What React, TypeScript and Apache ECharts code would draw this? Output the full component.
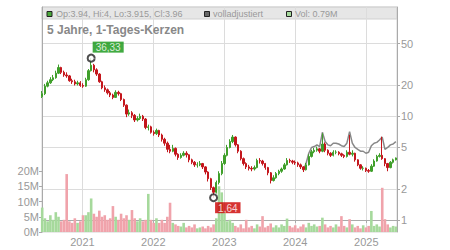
import React, { useEffect, useRef } from "react";
import * as echarts from "echarts";

// ---- data (one candle per 14 days) ----
const START_DATE = [2020, 5, 8]; // 2020-06-08
const STEP_DAYS = 14;
const FIRST_OPEN = 15.5;

const closes = [
  16.5, 19.5, 21.0, 22.5, 23.5, 26.0, 29.5, 26.5, 25.0, 24.5,
  22.0, 21.5, 20.5, 21.0, 19.8, 19.5, 22.5, 27.5, 31.0, 28.0,
  25.5, 21.5, 18.8, 18.0, 16.8, 16.0, 15.2, 17.0, 16.5, 14.5,
  12.8, 10.5, 10.8, 10.2, 9.2, 9.5, 10.0, 9.4, 7.8, 7.9,
  7.0, 6.8, 7.3, 6.6, 6.0, 5.5, 4.8, 4.6, 4.9, 4.3,
  4.0, 4.2, 4.4, 4.25, 3.8, 3.6, 3.4, 3.4, 3.5, 3.25,
  2.9, 2.5, 2.05, 1.85, 2.3, 2.8, 3.5, 4.2, 5.0, 5.7,
  6.3, 5.3, 4.6, 3.9, 3.5, 3.25, 3.15, 3.1, 3.2, 3.75,
  3.7, 3.5, 3.2, 2.85, 2.4, 2.55, 2.8, 2.95, 3.1, 3.4,
  3.75, 3.7, 3.6, 3.55, 3.4, 3.25, 3.05, 3.4, 4.1, 4.55,
  4.7, 4.85, 4.6, 5.4, 4.7, 4.4, 4.2, 4.5, 4.5, 4.35,
  4.2, 4.1, 4.5, 4.3, 4.4, 3.8, 3.4, 3.15, 3.15, 3.0,
  2.95, 3.3, 3.7, 4.1, 4.2, 3.9, 3.5, 3.2, 3.6, 3.8,
  3.96,
];

const highs = [
  17.5, 20.5, 22.0, 23.8, 25.0, 27.5, 31.5, 30.0, 27.5, 26.5,
  25.0, 23.0, 22.5, 22.0, 21.8, 20.8, 23.5, 28.5, 36.33, 32.0,
  29.0, 26.0, 22.0, 19.8, 18.5, 17.5, 16.5, 17.8, 17.6, 16.8,
  14.8, 13.0, 11.6, 11.2, 10.5, 10.0, 10.6, 10.3, 9.6, 8.3,
  8.1, 7.3, 7.6, 7.4, 6.8, 6.2, 5.7, 5.3, 5.3, 5.0,
  4.4, 4.4, 4.6, 4.6, 4.3, 3.9, 3.7, 3.6, 3.7, 3.55,
  3.3, 2.95, 2.55, 2.1, 2.4, 2.95, 3.7, 4.4, 5.3, 6.0,
  6.6, 6.4, 5.4, 4.7, 4.0, 3.6, 3.4, 3.3, 3.35, 3.9,
  3.95, 3.8, 3.55, 3.25, 2.9, 2.7, 2.9, 3.05, 3.2, 3.55,
  3.95, 3.9, 3.8, 3.75, 3.65, 3.5, 3.3, 3.55, 4.3, 4.75,
  4.95, 5.1, 4.95, 6.85, 5.6, 4.8, 4.5, 4.7, 4.7, 4.6,
  4.45, 4.3, 4.7, 6.6, 4.7, 4.45, 3.85, 3.45, 3.3, 3.2,
  3.1, 3.45, 3.85, 4.25, 4.4, 6.35, 3.95, 3.55, 3.7, 3.9,
  4.0,
];

const lows = [
  15.0, 16.0, 19.0, 20.5, 21.8, 23.0, 25.5, 25.5, 24.0, 23.5,
  21.5, 20.5, 19.8, 19.8, 19.2, 18.8, 19.2, 22.0, 27.0, 26.5,
  24.5, 21.0, 18.2, 17.2, 16.2, 15.3, 14.6, 15.0, 15.8, 14.0,
  12.3, 9.8, 10.1, 9.6, 8.8, 8.9, 9.2, 9.0, 7.5, 7.3,
  6.8, 6.5, 6.6, 6.3, 5.7, 5.2, 4.5, 4.4, 4.5, 4.1,
  3.8, 3.9, 4.1, 4.0, 3.6, 3.45, 3.25, 3.2, 3.3, 3.1,
  2.75, 2.35, 1.95, 1.64, 1.8, 2.2, 2.7, 3.4, 4.1, 4.9,
  5.5, 5.1, 4.4, 3.75, 3.35, 3.1, 3.0, 2.95, 3.0, 3.15,
  3.5, 3.35, 3.05, 2.7, 2.25, 2.35, 2.5, 2.7, 2.85, 3.05,
  3.35, 3.55, 3.45, 3.4, 3.25, 3.1, 2.9, 3.0, 3.35, 4.0,
  4.4, 4.55, 4.4, 4.5, 4.5, 4.2, 4.05, 4.1, 4.3, 4.2,
  4.05, 3.95, 4.0, 4.2, 4.1, 3.65, 3.3, 3.05, 3.0, 2.9,
  2.85, 2.9, 3.25, 3.65, 4.0, 3.8, 3.3, 2.95, 3.15, 3.5,
  3.75,
];

// volume in millions of shares
const volumesM = [
  8.0, 4.5, 3.5, 5.5, 4.0, 6.5, 5.0, 3.5, 4.0, 19.0,
  3.5, 3.0, 4.5, 3.0, 3.5, 5.5, 5.5, 6.5, 11.0, 6.0,
  5.0, 7.0, 5.0, 5.5, 4.0, 4.5, 8.5, 5.0, 4.0, 6.0,
  4.5, 5.5, 4.0, 7.2, 4.5, 3.5, 4.5, 3.5, 4.0, 12.5,
  4.0, 3.0, 4.5, 3.0, 4.0, 3.0, 5.0, 9.6, 3.0, 2.5,
  2.0, 1.8, 3.0, 1.5, 2.0, 1.5, 2.5, 1.2, 1.5, 1.8,
  1.2, 2.0, 1.5, 2.5, 4.5, 15.0, 13.0, 6.5, 3.5, 4.0,
  3.0, 2.0, 1.5, 2.5, 1.2, 4.0, 1.5, 2.0, 1.2, 2.5,
  1.8, 5.2, 1.5, 2.0, 2.8, 1.5, 2.2, 1.5, 2.5, 2.0,
  4.4, 2.0, 1.5, 2.2, 1.2, 1.8, 2.5, 1.5, 3.0, 2.0,
  2.5, 1.8, 2.0, 4.7, 2.5, 1.5, 2.0, 1.5, 2.5, 1.8,
  5.2, 2.0, 1.5, 4.2, 2.5, 1.5, 2.0, 1.2, 2.2, 1.5,
  2.0, 6.9, 2.0, 2.5, 1.8, 14.5, 4.2, 2.5, 1.5, 2.0,
  1.8,
];

// fully adjusted close ("volladjustiert"), visible from this candle on
const ADJUSTED_START_INDEX = 96;
const adjustedCloses = [
  3.05, 3.5, 4.4, 5.0, 5.1, 5.3, 5.1, 7.0, 5.7, 5.3,
  5.2, 5.5, 5.5, 5.4, 5.2, 5.1, 5.5, 7.1, 5.5, 5.0,
  4.8, 4.6, 4.6, 4.4, 4.5, 5.2, 5.5, 5.6, 5.9, 6.3,
  4.8, 5.0, 5.3, 5.4, 5.7,
];

const priceTicks = [1, 2, 5, 10, 20, 50];
const volumeTicksM = [0, 5, 10, 15, 20];
const yearTicks = [2021, 2022, 2023, 2024, 2025];
const X_MIN = [2020, 5, 7];
const X_MAX = [2025, 5, 8];
const PRICE_MIN = 0.766;
const PRICE_MAX = 113;
const VOLUME_MAX_M = 73.8;

const titleText = "5 Jahre, 1-Tages-Kerzen";
const ohlcText = "Op:3.94, Hi:4, Lo:3.915, Cl:3.96";
const adjText = "volladjustiert";
const volText = "Vol: 0.79M";

const UP = "#3f9f2a";
const DOWN = "#c4161c";
const VOL_UP = "#a6d99c";
const VOL_DOWN = "#f0a3ab";
const FONT = "'Liberation Sans', Arial, sans-serif";
const LABEL = "#999";

export default function App() {
  const ref = useRef<HTMLDivElement>(null);

  useEffect(() => {
    document.body.style.margin = "0";
    if (!ref.current) return;
    const chart = echarts.init(ref.current, undefined, { renderer: "svg" });

    const DAY = 86400000;
    const t0 = Date.UTC(START_DATE[0], START_DATE[1], START_DATE[2]);
    const dates = closes.map((_, i) => t0 + i * STEP_DAYS * DAY);
    const opens = closes.map((_, i) => (i === 0 ? FIRST_OPEN : closes[i - 1]));
    const lg = (v: number) => Math.log10(v);

    const candleData = closes.map((c, i) => [
      dates[i], lg(opens[i]), lg(c), lg(lows[i]), lg(highs[i]),
    ]);
    const volData = volumesM.map((v, i) => ({
      value: [dates[i], v * 1e6],
      itemStyle: { color: closes[i] >= opens[i] ? VOL_UP : VOL_DOWN },
    }));
    const adjData = adjustedCloses.map((v, k) => [
      dates[ADJUSTED_START_INDEX + k], lg(v),
    ]);

    let iMax = 0, iMin = 0;
    highs.forEach((h, i) => { if (h > highs[iMax]) iMax = i; });
    lows.forEach((l, i) => { if (l < lows[iMin]) iMin = i; });
    const fmt = (v: number) => v.toFixed(2).replace(".", ",");

    const yearTs = yearTicks.map((y) => Date.UTC(y, 0, 1));

    chart.setOption({
      animation: false,
      textStyle: { fontFamily: FONT },
      grid: {
        left: 42, right: 53, top: 7, bottom: 18,
        show: true, borderColor: "#d4d4d4", borderWidth: 1,
      },
      graphic: [
        {
          type: "rect", z: -1, silent: true,
          shape: { x: 42, y: 7, width: 355, height: 12 },
          style: { fill: "#e6e6e6", stroke: "#d0d0d0", lineWidth: 1 },
        },
        { type: "rect", z: 10, shape: { x: 47, y: 11.5, width: 5, height: 5 }, style: { fill: "#4aa83a", stroke: "#222", lineWidth: 1 } },
        { type: "text", z: 10, x: 56, y: 14, style: { text: ohlcText, fill: LABEL, font: `9px ${FONT}`, verticalAlign: "middle" } },
        { type: "rect", z: 10, shape: { x: 204.5, y: 11.5, width: 5, height: 5 }, style: { fill: "#666", stroke: "#222", lineWidth: 1 } },
        { type: "text", z: 10, x: 213, y: 14, style: { text: adjText, fill: LABEL, font: `9px ${FONT}`, verticalAlign: "middle" } },
        { type: "rect", z: 10, shape: { x: 286.5, y: 11.5, width: 5, height: 5 }, style: { fill: VOL_UP, stroke: "#222", lineWidth: 1 } },
        { type: "text", z: 10, x: 295, y: 14, style: { text: volText, fill: LABEL, font: `9px ${FONT}`, verticalAlign: "middle" } },
        { type: "text", z: 10, x: 47, y: 30, style: { text: titleText, fill: "#888", font: `bold 12px ${FONT}`, verticalAlign: "middle" } },
      ],
      xAxis: {
        type: "value",
        min: Date.UTC(X_MIN[0], X_MIN[1], X_MIN[2]),
        max: Date.UTC(X_MAX[0], X_MAX[1], X_MAX[2]),
        axisLine: { show: true, lineStyle: { color: "#aaa" } },
        axisTick: { show: true, length: 3, customValues: yearTs, lineStyle: { color: "#aaa" } },
        axisLabel: {
          customValues: yearTs,
          formatter: (v: number) => String(new Date(v).getUTCFullYear()),
          color: LABEL, fontSize: 11, margin: 4, fontFamily: FONT,
        },
        splitLine: { show: true, lineStyle: { color: "#dcdcdc" } },
      },
      yAxis: [
        {
          type: "value", position: "right",
          min: lg(PRICE_MIN), max: lg(PRICE_MAX),
          axisLine: { show: true, lineStyle: { color: "#aaa" } },
          axisTick: { show: true, length: 3, customValues: priceTicks.map(lg), lineStyle: { color: "#aaa" } },
          axisLabel: {
            customValues: priceTicks.map(lg),
            formatter: (v: number) => String(Math.round(Math.pow(10, v))),
            color: LABEL, fontSize: 11, margin: 4, fontFamily: FONT,
          },
          splitLine: { show: true, lineStyle: { color: "#dcdcdc" } },
        },
        {
          type: "value", position: "left",
          min: 0, max: VOLUME_MAX_M * 1e6,
          axisLine: { show: true, lineStyle: { color: "#aaa" } },
          axisTick: { show: true, length: 3, customValues: volumeTicksM.map((v) => v * 1e6), lineStyle: { color: "#aaa" } },
          axisLabel: {
            customValues: volumeTicksM.map((v) => v * 1e6),
            formatter: (v: number) => `${Math.round(v / 1e6)}M`,
            color: LABEL, fontSize: 11, margin: 3, fontFamily: FONT,
          },
          splitLine: { show: false },
        },
      ],
      series: [
        {
          type: "bar", yAxisIndex: 1, z: 1,
          data: volData, barWidth: 2.6,
        },
        {
          type: "line", yAxisIndex: 0, z: 2,
          data: adjData, symbol: "none",
          lineStyle: { color: "#888", width: 1.5 },
        },
        {
          type: "candlestick", yAxisIndex: 0, z: 3,
          dimensions: ["date", "open", "close", "lowest", "highest"],
          encode: { x: 0, y: [1, 2, 3, 4] },
          data: candleData, barWidth: 1.9,
          itemStyle: { color: UP, color0: DOWN, borderColor: UP, borderColor0: DOWN, borderWidth: 1 },
        },
        {
          type: "scatter", yAxisIndex: 0, z: 5,
          symbol: "emptyCircle", symbolSize: 7,
          itemStyle: { color: "#222", borderColor: "#222", borderWidth: 1 },
          data: [
            {
              value: [dates[iMax], lg(highs[iMax])],
              label: {
                show: true, formatter: fmt(highs[iMax]), position: [6, -12],
                backgroundColor: "#129512", color: "#fff", fontSize: 10,
                padding: [1, 3, 0, 3], fontFamily: FONT,
              },
            },
            {
              value: [dates[iMin], lg(lows[iMin])],
              label: {
                show: true, formatter: fmt(lows[iMin]), position: [6, 9],
                backgroundColor: "#cc0000", color: "#fff", fontSize: 10,
                padding: [1, 3, 0, 3], fontFamily: FONT,
              },
            },
          ],
        },
      ],
    });

    return () => chart.dispose();
  }, []);

  return <div ref={ref} style={{ width: 450, height: 250 }} />;
}
